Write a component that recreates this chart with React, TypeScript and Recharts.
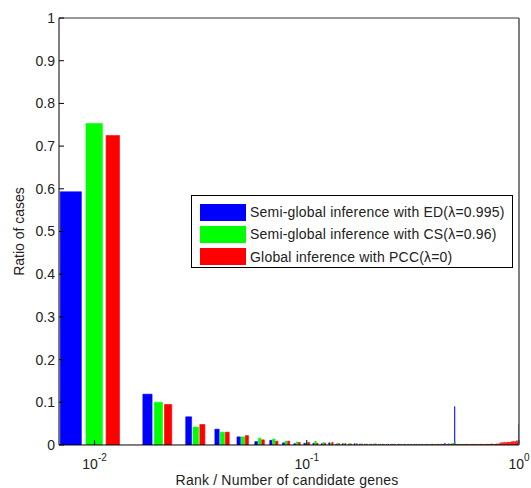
import React from "react";
import { ComposedChart, XAxis, YAxis, ReferenceArea, Legend, Line } from "recharts";

// rank / number of candidate genes: 0.01 ... 1.00
const ranks = Array.from({ length: 100 }, (_, i) => (i + 1) / 100);

const seriesNames = [
  "Semi-global inference with ED(\u03bb=0.995)",
  "Semi-global inference with CS(\u03bb=0.96)",
  "Global inference with PCC(\u03bb=0)",
];
const seriesColors = ["#0000ff", "#00ff00", "#ff0000"];

const edValues = [
  0.593, 0.119, 0.066, 0.037, 0.019, 0.008, 0.011, 0.005, 0.003, 0.004,
  0.004, 0.003, 0.005, 0.002, 0.003, 0.002, 0.003, 0.002, 0.002, 0.001,
  0.002, 0.001, 0.002, 0.001, 0.001, 0.002, 0.001, 0.001, 0.002, 0.001,
  0.001, 0.001, 0.002, 0.001, 0.001, 0.001, 0.002, 0.001, 0.001, 0.001,
  0.001, 0.002, 0.001, 0.001, 0.004, 0.001, 0.003, 0.002, 0.003, 0.09,
  0.001, 0.001, 0.001, 0.001, 0.001, 0.001, 0.002, 0.001, 0.001, 0.001,
  0.001, 0.001, 0.001, 0.001, 0.001, 0.002, 0.001, 0.001, 0.001, 0.001,
  0.001, 0.001, 0.001, 0.001, 0.001, 0.002, 0.001, 0.001, 0.001, 0.001,
  0.001, 0.001, 0.001, 0.002, 0.001, 0.001, 0.001, 0.001, 0.002, 0.001,
  0.001, 0.002, 0.001, 0.001, 0.002, 0.002, 0.002, 0.003, 0.004, 0.048,
];

const csValues = [
  0.753, 0.1, 0.042, 0.03, 0.019, 0.016, 0.014, 0.009, 0.007, 0.005,
  0.009, 0.006, 0.004, 0.004, 0.003, 0.004, 0.002, 0.003, 0.002, 0.002,
  0.003, 0.001, 0.002, 0.002, 0.001, 0.002, 0.002, 0.001, 0.002, 0.001,
  0.002, 0.001, 0.001, 0.002, 0.001, 0.001, 0.001, 0.002, 0.001, 0.001,
  0.001, 0.001, 0.002, 0.001, 0.001, 0.001, 0.002, 0.003, 0.004, 0.008,
  0.001, 0.001, 0.001, 0.001, 0.001, 0.001, 0.001, 0.001, 0.001, 0.001,
  0.001, 0.001, 0.001, 0.001, 0.001, 0.001, 0.001, 0.001, 0.001, 0.001,
  0.001, 0.001, 0.001, 0.001, 0.001, 0.001, 0.001, 0.001, 0.001, 0.001,
  0.001, 0.001, 0.001, 0.001, 0.001, 0.001, 0.001, 0.001, 0.001, 0.001,
  0.001, 0.001, 0.001, 0.001, 0.001, 0.001, 0.001, 0.001, 0.002, 0.003,
];

const pccValues = [
  0.725, 0.095, 0.048, 0.03, 0.022, 0.012, 0.009, 0.009, 0.006, 0.006,
  0.004, 0.004, 0.006, 0.003, 0.003, 0.002, 0.003, 0.002, 0.002, 0.002,
  0.002, 0.002, 0.001, 0.002, 0.002, 0.001, 0.002, 0.001, 0.001, 0.002,
  0.001, 0.002, 0.001, 0.001, 0.002, 0.001, 0.001, 0.001, 0.002, 0.002,
  0.002, 0.001, 0.002, 0.002, 0.001, 0.002, 0.001, 0.002, 0.002, 0.002,
  0.002, 0.002, 0.001, 0.002, 0.002, 0.002, 0.002, 0.001, 0.002, 0.002,
  0.002, 0.002, 0.002, 0.002, 0.001, 0.002, 0.002, 0.002, 0.002, 0.002,
  0.002, 0.002, 0.002, 0.003, 0.002, 0.002, 0.002, 0.003, 0.002, 0.003,
  0.004, 0.006, 0.006, 0.006, 0.007, 0.006, 0.006, 0.007, 0.007, 0.007,
  0.007, 0.008, 0.008, 0.009, 0.008, 0.008, 0.01, 0.01, 0.01, 0.01,
];

const seriesValues = [edValues, csValues, pccValues];

const yTicks = [0, 0.1, 0.2, 0.3, 0.4, 0.5, 0.6, 0.7, 0.8, 0.9, 1];
const xMajorTicks = [0.01, 0.1, 1];
const xMinorTicks = [0.008, 0.009, 0.02, 0.03, 0.04, 0.05, 0.06, 0.07, 0.08, 0.09, 0.2, 0.3, 0.4, 0.5, 0.6, 0.7, 0.8, 0.9];

const rows = ranks.map((rank, i) => ({ rank, ed: edValues[i], cs: csValues[i], pcc: pccValues[i] }));

const FONT = "'Liberation Sans', Arial, sans-serif";
const TEXT = "#222";
const X_DOMAIN: [number, number] = [0.0068, 1];
const THIN = 0.01; // axis band size; CartesianAxis skips zero-sized axes
// matlab-style grouped bars: group takes 2/3 of the spacing, each bar 80% of its slot
const SPACING = ranks[1] - ranks[0];
const SLOT = (SPACING * 2) / 3 / seriesNames.length;
const HALF_BAR = (SLOT * 0.8) / 2;

function PowerTick({ x, y, payload }: any) {
  const exp = Math.round(Math.log10(payload.value));
  return (
    <text x={x} y={y + 9} textAnchor="middle" fontFamily={FONT} fontSize={14} fill={TEXT}>
      10
      <tspan dy={-8} fontSize={10}>
        {exp === 0 ? "0" : "-" + Math.abs(exp)}
      </tspan>
    </text>
  );
}

function LegendBox() {
  return (
    <div
      style={{
        width: 322,
        height: 73,
        border: "1px solid #000",
        background: "#fff",
        boxSizing: "border-box",
        padding: "5px 0 0 8px",
        fontFamily: FONT,
        fontSize: 14,
        color: TEXT,
      }}
    >
      {seriesNames.map((name, i) => (
        <div key={name} style={{ display: "flex", alignItems: "center", height: 22.3 }}>
          <span style={{ display: "inline-block", width: 46, height: 17, background: seriesColors[i], marginRight: 4 }} />
          <span style={{ letterSpacing: 0.2, whiteSpace: "nowrap" }}>{name}</span>
        </div>
      ))}
    </div>
  );
}

export default function App() {
  return (
    <div style={{ position: "absolute", left: 0, top: 0, width: 531, height: 488, background: "#fff" }}>
      <ComposedChart width={531} height={488} data={rows} margin={{ top: 18, right: 12, bottom: 43, left: 59 }}>
        <XAxis
          xAxisId="x"
          dataKey="rank"
          type="number"
          scale="log"
          domain={X_DOMAIN}
          allowDataOverflow
          ticks={xMajorTicks}
          height={THIN}
          tickSize={-5}
          tickMargin={20}
          tick={<PowerTick />}
          axisLine={{ stroke: "#000" }}
          tickLine={{ stroke: "#000" }}
        />
        <XAxis
          xAxisId="xm"
          dataKey="rank"
          type="number"
          scale="log"
          domain={X_DOMAIN}
          allowDataOverflow
          ticks={xMinorTicks}
          height={THIN}
          tickSize={-3}
          tick={false}
          axisLine={false}
          tickLine={{ stroke: "#333" }}
        />
        <XAxis
          xAxisId="xt"
          dataKey="rank"
          orientation="top"
          type="number"
          scale="log"
          domain={X_DOMAIN}
          allowDataOverflow
          ticks={xMajorTicks}
          height={THIN}
          tickSize={-5}
          tick={false}
          axisLine={{ stroke: "#333" }}
          tickLine={{ stroke: "#333" }}
        />
        <XAxis
          xAxisId="xtm"
          dataKey="rank"
          orientation="top"
          type="number"
          scale="log"
          domain={X_DOMAIN}
          allowDataOverflow
          ticks={xMinorTicks}
          height={THIN}
          tickSize={-3}
          tick={false}
          axisLine={false}
          tickLine={{ stroke: "#333" }}
        />
        <YAxis
          yAxisId="y"
          type="number"
          domain={[0, 1]}
          allowDataOverflow
          ticks={yTicks}
          width={THIN}
          tickSize={-5}
          tickMargin={9}
          tick={{ fontFamily: FONT, fontSize: 14, fill: TEXT }}
          axisLine={{ stroke: "#000" }}
          tickLine={{ stroke: "#000" }}
        />
        <YAxis
          yAxisId="yr"
          orientation="right"
          type="number"
          domain={[0, 1]}
          allowDataOverflow
          ticks={yTicks}
          width={THIN}
          tickSize={-5}
          tick={false}
          axisLine={{ stroke: "#555", strokeWidth: 1.5 }}
          tickLine={{ stroke: "#333" }}
        />
        {/* invisible carriers so every axis has a graphical item */}
        <Line xAxisId="x" yAxisId="y" dataKey="ed" stroke="none" dot={false} activeDot={false} legendType="none" isAnimationActive={false} />
        <Line xAxisId="xm" yAxisId="yr" dataKey="cs" stroke="none" dot={false} activeDot={false} legendType="none" isAnimationActive={false} />
        <Line xAxisId="xt" yAxisId="y" dataKey="pcc" stroke="none" dot={false} activeDot={false} legendType="none" isAnimationActive={false} />
        <Line xAxisId="xtm" yAxisId="yr" dataKey="ed" stroke="none" dot={false} activeDot={false} legendType="none" isAnimationActive={false} />
        {seriesValues.map((values, s) =>
          values.map((v, i) =>
            v > 0 ? (
              <ReferenceArea
                key={`${s}-${i}`}
                xAxisId="x"
                yAxisId="y"
                x1={ranks[i] + (s - 1) * SLOT - HALF_BAR}
                x2={ranks[i] + (s - 1) * SLOT + HALF_BAR}
                y1={0}
                y2={v}
                fill={seriesColors[s]}
                fillOpacity={1}
                stroke={seriesColors[s]}
                strokeWidth={0.6}
                ifOverflow="hidden"
              />
            ) : null
          )
        )}
        <Legend
          layout="vertical"
          align="center"
          verticalAlign="middle"
          content={() => <LegendBox />}
          wrapperStyle={{ left: 191, top: 195, width: 322 }}
        />
        <text x={24} y={231.5} transform="rotate(-90, 24, 231.5)" textAnchor="middle" fontFamily={FONT} fontSize={14} fill={TEXT}>
          Ratio of cases
        </text>
        <text x={287} y={485} textAnchor="middle" fontFamily={FONT} fontSize={14} fill={TEXT} letterSpacing={0.2}>
          Rank / Number of candidate genes
        </text>
      </ComposedChart>
    </div>
  );
}
